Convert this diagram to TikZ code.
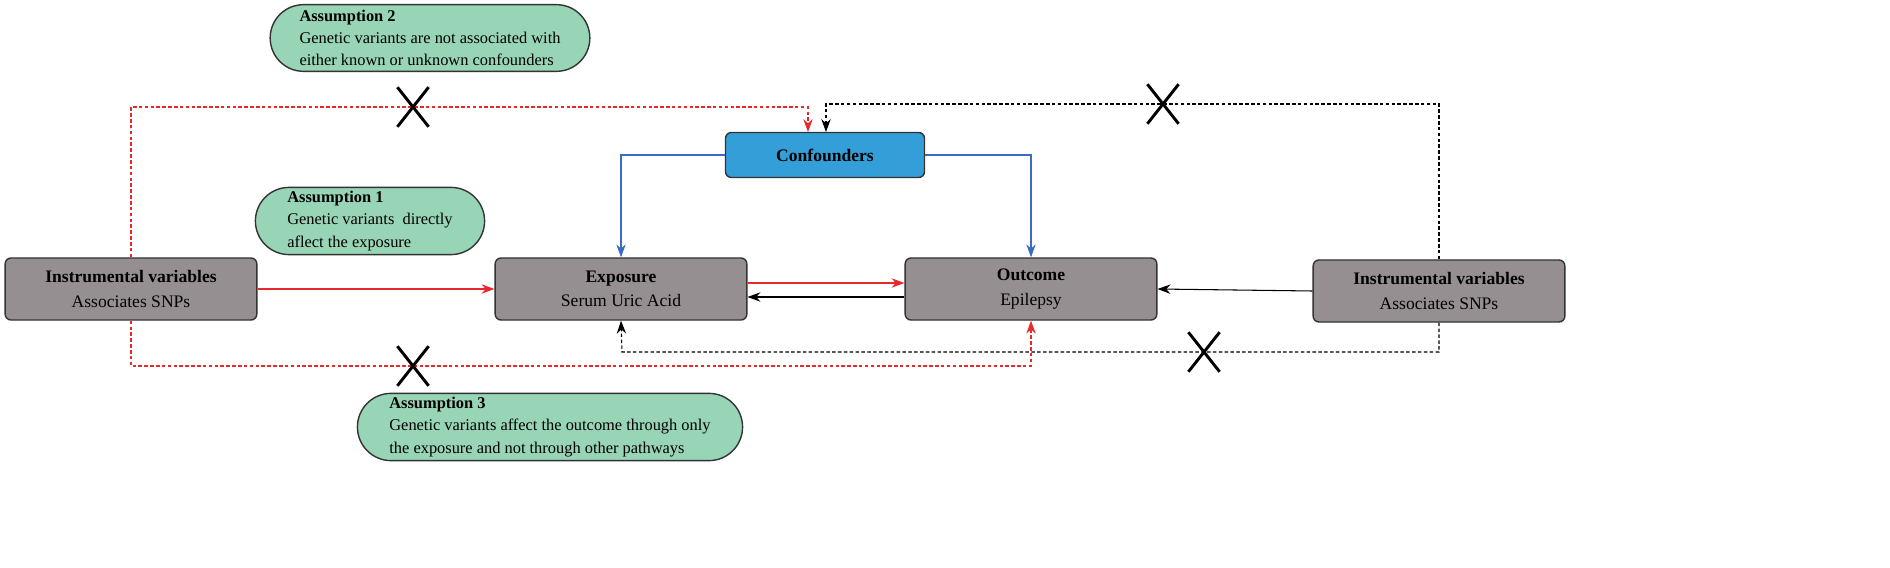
\documentclass[tikz,border=0pt]{standalone}
\usepackage{fontspec}
\setmainfont{Liberation Serif}
\usetikzlibrary{shapes.misc,arrows.meta}
\definecolor{boxgrey}{HTML}{968F91}
\definecolor{assgreen}{HTML}{98D4B6}
\definecolor{confblue}{HTML}{349ED9}
\definecolor{lineblue}{HTML}{3A6BC5}
\definecolor{linered}{HTML}{E8292C}
\tikzset{
  var/.style={draw=black!80,line width=1.2pt,fill=boxgrey,rounded corners=5pt,minimum width=7.55cm,minimum height=1.86cm,align=center,font=\fontsize{15}{21}\selectfont},
  ass/.style={rounded rectangle,draw=black!80,line width=1.2pt,fill=assgreen,align=left,minimum height=2cm,inner xsep=12pt,font=\fontsize{14}{19}\selectfont},
  xmark/.style={cross out,draw=black,line width=2.5pt,minimum width=0.85cm,minimum height=1.1cm},
  arr/.style={-{Stealth[length=11pt,width=8pt]},line width=0.9pt},
  dsh/.style={arr,dashed,dash pattern=on 3pt off 2pt}
}
\begin{document}
\begin{tikzpicture}[x=0.03cm,y=-0.03cm]
\useasboundingbox (0,0) rectangle (1890,568);
\node[var](ivl) at (131,289){\textbf{Instrumental variables}\\Associates SNPs};
\node[var](exp) at (621,289){\textbf{Exposure}\\Serum Uric Acid};
\node[var](out) at (1031,289){\textbf{Outcome}\\Epilepsy};
\node[var](ivr) at (1439,291){\textbf{Instrumental variables}\\Associates SNPs};
\node[draw=black!80,line width=1.2pt,fill=confblue,rounded corners=5pt,minimum width=5.97cm,minimum height=1.35cm,font=\fontsize{15}{18}\selectfont\bfseries](conf) at (825,155){Confounders};
\node[ass](a2) at (430,38){\textbf{Assumption 2}\\Genetic variants are not associated with\\either known or unknown confounders};
\node[ass](a1) at (370,221){\textbf{Assumption 1}\\Genetic variants~ directly\\aflect the exposure};
\node[ass](a3) at (550,427){\textbf{Assumption 3}\\Genetic variants affect the outcome through only\\the exposure and not through other pathways};
% direct paths
\draw[arr,linered] (ivl) -- (exp);
\draw[arr,linered] ([yshift=0.18cm]exp.east) -- ([yshift=0.18cm]out.west);
\draw[arr,black] ([yshift=-0.24cm]out.west) -- ([yshift=-0.24cm]exp.east);
\draw[arr,black] (ivr.west) -- (out.east);
\draw[arr,lineblue] (conf.west) -| (exp.north);
\draw[arr,lineblue] (conf.east) -| (out.north);
% violated paths
\coordinate (c1) at (808,132);
\coordinate (c2) at (826,132);
\draw[dsh,linered] (ivl.north) |- (808,107) -- (c1);
\draw[dsh,black] (ivr.north) |- (826,104) -- (c2);
\draw[dsh,linered] (ivl.south) |- (1031,366) -- (out.south);
\draw[dsh,black] (ivr.south) |- (622,352) -- (exp.south);
\node[xmark](x1) at (413,107){};
\node[xmark](x2) at (1163,104){};
\node[xmark](x3) at (413,366){};
\node[xmark](x4) at (1204,352){};
\end{tikzpicture}
\end{document}
